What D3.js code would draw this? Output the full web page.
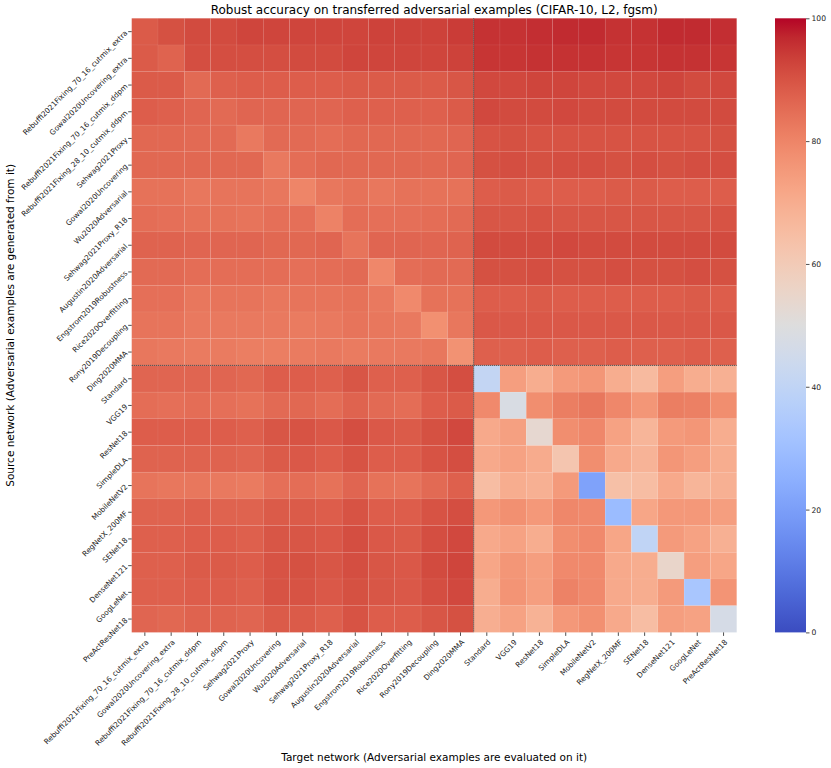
<!DOCTYPE html>
<html>
<head>
<meta charset="utf-8">
<script src="https://cdn.jsdelivr.net/npm/d3@7"></script>
<style>
body { margin: 0; background: #fff; }
svg text { font-family: "DejaVu Sans", sans-serif; }
</style>
</head>
<body>
<div id="chart"></div>
<script>
const robustModels = ["Rebuffi2021Fixing_70_16_cutmix_extra", "Gowal2020Uncovering_extra",
    "Rebuffi2021Fixing_70_16_cutmix_ddpm", "Rebuffi2021Fixing_28_10_cutmix_ddpm", "Sehwag2021Proxy",
    "Gowal2020Uncovering", "Wu2020Adversarial", "Sehwag2021Proxy_R18", "Augustin2020Adversarial",
    "Engstrom2019Robustness", "Rice2020Overfitting", "Rony2019Decoupling", "Ding2020MMA"];
const standardModels = ["Standard", "VGG19", "ResNet18", "SimpleDLA", "MobileNetV2", "RegNetX_200MF",
    "SENet18", "DenseNet121", "GoogLeNet", "PreActResNet18"];

// rows = source (robust), cols = target (robust)
const robustOnRobust = [
    [88.5, 90.5, 91.5, 91.5, 92.5, 92.5, 92.5, 92.5, 92.5, 93, 93, 93, 94],
    [88.5, 87, 91, 91, 91, 91, 91.5, 91.5, 92.5, 92.5, 92.5, 92.5, 93],
    [88.5, 88.5, 85.5, 87.5, 88, 88, 88, 88, 88.5, 88.5, 88.5, 88.5, 89.5],
    [88, 87.5, 86.5, 85.5, 86.5, 86.5, 86.5, 86.5, 87.5, 87.5, 87.5, 87.5, 88.5],
    [86, 86, 85.5, 85.5, 82.5, 85.5, 85.5, 85, 86, 86, 86, 86, 86.5],
    [86, 86, 86, 86, 86, 82.5, 85, 86, 86, 86, 86, 86, 86.5],
    [84, 84, 83, 83.5, 83.5, 83, 80, 83, 84, 83, 84, 84, 84],
    [85, 84.5, 84, 84, 83.5, 84.5, 84.5, 80.5, 85, 84.5, 84.5, 85, 85.5],
    [87, 87, 86.5, 86.5, 86.5, 86, 86, 86.5, 83.5, 86.5, 86.5, 86.5, 87],
    [85.5, 85.5, 85, 85, 85, 85, 84.5, 85, 85.5, 79.5, 85, 85.5, 85.5],
    [84.5, 84.5, 83, 83.5, 83.5, 83, 83.5, 83.5, 84, 82.5, 79, 84, 84],
    [83.5, 83.5, 82.5, 82.5, 82.5, 82.5, 82, 82.5, 83.5, 83, 82.5, 77.5, 83],
    [83, 82.5, 82, 82, 81.5, 81.5, 82, 82.5, 82, 82.5, 82.5, 83, 77]
];
// rows = source (robust), cols = target (standard)
const robustOnStandard = [
    [95.5, 95.5, 96, 96.5, 96.5, 95.5, 95.5, 96.5, 96.5, 96],
    [95, 95, 95.5, 95.5, 95.5, 95, 95, 95.5, 95.5, 95],
    [92, 92, 92.5, 92.5, 92, 92, 92, 92.5, 91.5, 92],
    [92, 91.5, 91.5, 92, 91.5, 91.5, 91.5, 91.5, 91.5, 91.5],
    [90, 90.5, 90, 90, 90, 90, 90, 90, 90, 90.5],
    [90.5, 91, 90.5, 91, 91, 90.5, 91, 90.5, 91, 91],
    [88, 88.5, 88, 88, 88, 88.5, 88.5, 88, 88, 88],
    [89.5, 89.5, 90, 89.5, 89.5, 89.5, 89.5, 89.5, 89.5, 90],
    [91.5, 91.5, 91.5, 92, 91.5, 91.5, 91.5, 91.5, 91.5, 91.5],
    [90.5, 90.5, 91, 90.5, 90.5, 91, 90.5, 90.5, 91, 90.5],
    [88, 88, 88.5, 88, 88, 88, 88, 88, 88.5, 88],
    [89, 89, 89, 89, 89, 89, 89, 89, 89, 89],
    [87.5, 87.5, 88, 87.5, 87.5, 88, 87.5, 87.5, 88, 87.5]
];
// rows = source (standard), cols = target (robust)
const standardOnRobust = [
    [86.5, 86.5, 86.5, 86.5, 86, 88, 88, 87.5, 89.5, 87.5, 87.5, 89.5, 91],
    [85, 84.5, 85, 84.5, 84, 85.5, 86, 85, 87, 85.5, 85, 88, 88.5],
    [88, 88, 88, 88, 87.5, 89.5, 90, 89, 91, 89, 88.5, 90.5, 92],
    [87, 87, 87, 87, 86.5, 88.5, 89, 88, 90, 88, 88, 90, 91],
    [83.5, 83, 83, 82.5, 82, 84.5, 85, 84, 86.5, 84, 83.5, 85.5, 87.5],
    [87, 87, 87.5, 87, 87, 88.5, 88.5, 88, 90, 88, 88, 90, 91],
    [87.5, 87.5, 88, 88, 87.5, 89.5, 89.5, 89, 91, 89, 88.5, 91, 92],
    [87.5, 87.5, 88.5, 88.5, 88, 90, 90.5, 89.5, 91, 89.5, 89, 91.5, 92.5],
    [87.5, 87.5, 88, 88, 87.5, 90, 90, 89, 90.5, 89.5, 89, 91, 92],
    [86.5, 86, 87, 87, 86.5, 88.5, 88.5, 87.5, 90, 88, 88, 89.5, 90.5]
];
// rows = source (standard), cols = target (standard)
const standardOnStandard = [
    [41, 74, 70, 75, 76, 70, 66, 74, 70, 69],
    [79, 48, 78, 81.5, 83, 79.5, 76, 81.5, 81, 78],
    [71, 73.5, 53.5, 78, 79.5, 73, 67.5, 75, 76, 70],
    [71, 73, 70.5, 62, 78, 71, 68, 76, 74, 70],
    [65, 70, 69, 75, 21, 64, 65, 71, 67.5, 69],
    [75.5, 77.5, 75.5, 79.5, 79, 29, 72, 75.5, 75.5, 74],
    [71, 73, 70, 78, 79, 72, 40, 75, 73, 69],
    [72, 76, 74, 79, 79, 71, 70, 55, 74, 72],
    [70, 76.5, 74, 80.5, 79, 71, 70, 75, 33, 76.5],
    [69.5, 73, 68.5, 75.5, 77.5, 71, 65, 74, 73, 47]
];
const colorbarTicks = [0, 20, 40, 60, 80, 100];

// coolwarm colormap, 33 evenly spaced stops
const coolwarm = ["rgb(59,76,192)", "rgb(68,90,204)", "rgb(77,104,215)", "rgb(87,117,225)",
    "rgb(98,130,234)", "rgb(108,142,241)", "rgb(119,154,247)", "rgb(130,165,251)",
    "rgb(141,176,254)", "rgb(152,185,255)", "rgb(163,194,255)", "rgb(174,201,253)",
    "rgb(184,208,249)", "rgb(194,213,244)", "rgb(204,217,238)", "rgb(213,219,230)",
    "rgb(221,221,221)", "rgb(229,216,209)", "rgb(236,211,197)", "rgb(241,204,185)",
    "rgb(245,196,173)", "rgb(247,187,160)", "rgb(247,177,148)", "rgb(247,166,135)",
    "rgb(244,154,123)", "rgb(241,141,111)", "rgb(236,127,99)", "rgb(229,112,88)",
    "rgb(222,96,77)", "rgb(213,80,66)", "rgb(203,62,56)", "rgb(192,40,47)", "rgb(180,4,38)"];

class HeatMap {

    constructor(DOMElement, width, height, margins) {
        this.DOMElement = DOMElement;
        this.width = width;
        this.height = height;
        this.margins = margins;
    }

    setData(models, matrix) {
        this.models = models;
        this.data = [];
        matrix.forEach((row, i) => row.forEach((v, j) => {
            this.data.push({source: models[i], target: models[j], value: v});
        }));
    }

    draw() {
        const m = this.margins;
        this.w = this.width - (m.left + m.right);
        this.h = this.height - (m.top + m.bottom);

        const svg = d3.select(this.DOMElement)
            .append("svg")
            .attr("width", this.width)
            .attr("height", this.height);
        const g = svg.append("g")
            .attr("transform", "translate(" + m.left + "," + m.top + ")");

        const x = d3.scaleBand().domain(this.models).range([0, this.w]);
        const y = d3.scaleBand().domain(this.models).range([0, this.h]);
        const z = d3.scaleLinear()
            .domain(coolwarm.map((c, i) => i * 100 / (coolwarm.length - 1)))
            .range(coolwarm)
            .clamp(true);

        g.selectAll(".cell")
            .data(this.data)
            .enter()
            .append("rect")
            .attr("class", "cell")
            .attr("x", d => x(d.target))
            .attr("y", d => y(d.source))
            .attr("width", x.bandwidth())
            .attr("height", y.bandwidth())
            .style("fill", d => z(d.value))
            .style("stroke", "#fff")
            .style("stroke-opacity", 0.08)
            .style("stroke-width", 0.6);

        // split between robust and standard models
        const sx = x(standardModels[0]), sy = y(standardModels[0]);
        g.append("line")
            .attr("x1", sx).attr("x2", sx).attr("y1", 0).attr("y2", this.h)
            .style("stroke", "#444").style("stroke-width", 1).style("stroke-dasharray", "1.2,0.8");
        g.append("line")
            .attr("x1", 0).attr("x2", this.w).attr("y1", sy).attr("y2", sy)
            .style("stroke", "#444").style("stroke-width", 1).style("stroke-dasharray", "1.2,0.8");

        const gy = g.append("g")
            .call(d3.axisLeft(y).tickSize(3.5))
            .attr("font-family", "DejaVu Sans")
            .attr("font-size", 7.4);
        gy.select(".domain").remove();
        gy.selectAll(".tick line").style("stroke", "#222").style("stroke-width", 0.8);
        gy.selectAll("text")
            .attr("x", 0)
            .attr("dy", "0.35em")
            .attr("fill", "#222")
            .attr("transform", "translate(-5.5,0) rotate(-45)");

        const gx = g.append("g")
            .attr("transform", "translate(0," + this.h + ")")
            .call(d3.axisBottom(x).tickSize(3.5))
            .attr("font-family", "DejaVu Sans")
            .attr("font-size", 7.4);
        gx.select(".domain").remove();
        gx.selectAll(".tick line").style("stroke", "#222").style("stroke-width", 0.8);
        gx.selectAll("text")
            .attr("x", 0)
            .attr("y", 0)
            .attr("dy", "0.35em")
            .attr("fill", "#222")
            .attr("text-anchor", "end")
            .attr("transform", "translate(2.5,8.5) rotate(-45)");

        // colorbar
        const cbX = 775 - m.left, cbW = 31;
        const grad = svg.append("defs").append("linearGradient")
            .attr("id", "cb-grad")
            .attr("x1", 0).attr("y1", 1).attr("x2", 0).attr("y2", 0);
        grad.selectAll("stop")
            .data(coolwarm)
            .enter()
            .append("stop")
            .attr("offset", (d, i) => i / (coolwarm.length - 1))
            .attr("stop-color", d => d);
        g.append("rect")
            .attr("x", cbX).attr("y", 0)
            .attr("width", cbW).attr("height", this.h)
            .style("fill", "url(#cb-grad)");
        const c = d3.scaleLinear().domain([0, 100]).range([this.h, 0]);
        const gc = g.append("g")
            .attr("transform", "translate(" + (cbX + cbW) + ",0)")
            .call(d3.axisRight(c).tickValues(colorbarTicks).tickSize(3.5).tickPadding(2))
            .attr("font-family", "DejaVu Sans")
            .attr("font-size", 7.6);
        gc.select(".domain").remove();
        gc.selectAll(".tick line").style("stroke", "#222").style("stroke-width", 0.8);
        gc.selectAll("text").attr("fill", "#222");

        svg.append("text")
            .attr("x", m.left + this.w / 2)
            .attr("y", 14)
            .attr("text-anchor", "middle")
            .style("font-size", "12px")
            .text("Robust accuracy on transferred adversarial examples (CIFAR-10, L2, fgsm)");
        svg.append("text")
            .attr("x", m.left + this.w / 2)
            .attr("y", 761)
            .attr("text-anchor", "middle")
            .style("font-size", "10.5px")
            .text("Target network (Adversarial examples are evaluated on it)");
        svg.append("text")
            .attr("transform", "translate(14," + (m.top + this.h / 2) + ") rotate(-90)")
            .attr("text-anchor", "middle")
            .style("font-size", "10.5px")
            .text("Source network (Adversarial examples are generated from it)");
    }
}

const models = robustModels.concat(standardModels);
const matrix = robustOnRobust.map((r, i) => r.concat(robustOnStandard[i]))
    .concat(standardOnRobust.map((r, i) => r.concat(standardOnStandard[i])));

const hm = new HeatMap("#chart", 831, 768, {left: 131.7, right: 94.3, top: 18.3, bottom: 135.6});
hm.setData(models, matrix);
hm.draw();
</script>
</body>
</html>
